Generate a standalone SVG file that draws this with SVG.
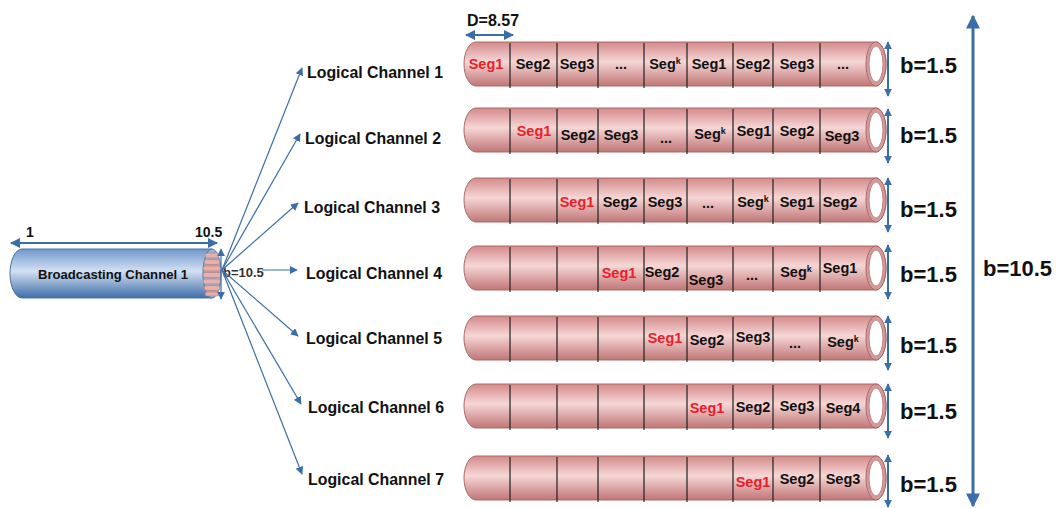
<svg xmlns="http://www.w3.org/2000/svg" width="1056" height="508" viewBox="0 0 1056 508">
<defs>
<linearGradient id="pink" x1="0" y1="0" x2="0" y2="1">
<stop offset="0" stop-color="#d48a8a"/>
<stop offset="0.45" stop-color="#f6d6d6"/>
<stop offset="1" stop-color="#c07676"/>
</linearGradient>
<linearGradient id="blue" x1="0" y1="0" x2="0" y2="1">
<stop offset="0" stop-color="#6f97cc"/>
<stop offset="0.45" stop-color="#d3e0f2"/>
<stop offset="1" stop-color="#3f6ea8"/>
</linearGradient>
<marker id="ah" viewBox="0 0 10 10" refX="9" refY="5" markerWidth="8" markerHeight="8" markerUnits="userSpaceOnUse" orient="auto-start-reverse">
<path d="M0,0 L10,5 L0,10 Z" fill="#3b6ea8"/>
</marker>
<marker id="ahs" viewBox="0 0 10 10" refX="9" refY="5" markerWidth="10" markerHeight="10" markerUnits="userSpaceOnUse" orient="auto-start-reverse">
<path d="M0,0 L10,5 L0,10 Z" fill="#3b6ea8"/>
</marker>
<marker id="ahb" viewBox="0 0 10 10" refX="9" refY="5" markerWidth="14" markerHeight="14" markerUnits="userSpaceOnUse" orient="auto-start-reverse">
<path d="M0,0 L10,5 L0,10 Z" fill="#3b6ea8"/>
</marker>
<g id="tube">
<path d="M476,-22 L876,-22 A10,22 0 0 1 876,22 L476,22 A12,22 0 0 1 476,-22 Z" fill="url(#pink)" stroke="#a86868" stroke-width="1"/>
<ellipse cx="876" cy="0" rx="10" ry="22" fill="#d69a9a" stroke="#a86868" stroke-width="1"/>
<ellipse cx="876" cy="0" rx="7" ry="18" fill="#ffffff" stroke="#b07070" stroke-width="0.8"/>
<path d="M510,-21 V24 M557,-21 V24 M598,-21 V24 M644,-21 V24 M687,-21 V24 M733,-21 V24 M773,-21 V24 M820,-21 V24" stroke="#222" stroke-width="1.2"/>
</g>
</defs>
<style>
.seg{font-family:"Liberation Sans",Arial,sans-serif;font-weight:bold;font-size:14.5px;fill:#111;text-anchor:middle}
.red{fill:#e8202a}
.lc{font-family:"Liberation Sans",Arial,sans-serif;font-weight:bold;font-size:17px;fill:#111}
.b15{font-family:"Liberation Sans",Arial,sans-serif;font-weight:bold;font-size:22px;fill:#111}
.lbl{font-family:"Liberation Sans",Arial,sans-serif;font-weight:bold;fill:#111}
.con{stroke:#3b6ea8;stroke-width:1.2;fill:none}
.dim{stroke:#3b6ea8;stroke-width:2;fill:none}
</style>

<g id="broadcast">
<path d="M22,249 L212,249 L212,298 L22,298 A12,24.5 0 0 1 22,249 Z" fill="url(#blue)" stroke="#4a74a8" stroke-width="1"/>
<ellipse cx="212" cy="273.5" rx="9" ry="24.5" fill="#9bb4d8" stroke="#4a74a8" stroke-width="1"/>
<g fill="#e8b0a8" stroke="#b07a78" stroke-width="0.6">
<rect x="205" y="253" width="14" height="5" rx="2.5"/>
<rect x="204" y="259.5" width="16" height="5" rx="2.5"/>
<rect x="203" y="266" width="18" height="5" rx="2.5"/>
<rect x="203" y="272.5" width="18" height="5" rx="2.5"/>
<rect x="203" y="279" width="18" height="5" rx="2.5"/>
<rect x="204" y="285.5" width="16" height="5" rx="2.5"/>
<rect x="205" y="292" width="14" height="4" rx="2"/>
</g>
<text class="lbl" x="38" y="279" font-size="13.5" textLength="150" lengthAdjust="spacingAndGlyphs">Broadcasting Channel 1</text>
<text class="lbl" x="26" y="237" font-size="14">1</text>
<text class="lbl" x="195" y="237" font-size="14">10.5</text>
<line class="dim" x1="11" y1="243" x2="217" y2="243" marker-start="url(#ahs)" marker-end="url(#ahs)"/>
<line class="con" x1="221" y1="249" x2="221" y2="299" marker-start="url(#ah)" marker-end="url(#ah)"/>
<text x="223" y="277" font-family="Liberation Sans,Arial,sans-serif" font-size="13" font-weight="bold" fill="#333">b=10.5</text>
</g>

<g id="connectors">
<line class="con" x1="222" y1="270" x2="302" y2="68" marker-end="url(#ah)"/>
<line class="con" x1="222" y1="270" x2="300" y2="134" marker-end="url(#ah)"/>
<line class="con" x1="222" y1="270" x2="298" y2="203" marker-end="url(#ah)"/>
<line class="con" x1="262" y1="270" x2="297" y2="270" marker-end="url(#ah)"/>
<line class="con" x1="222" y1="270" x2="298" y2="336" marker-end="url(#ah)"/>
<line class="con" x1="222" y1="270" x2="301" y2="404" marker-end="url(#ah)"/>
<line class="con" x1="222" y1="270" x2="302" y2="474" marker-end="url(#ah)"/>
</g>

<g id="labels">
<text class="lc" x="307" y="78" textLength="136" lengthAdjust="spacingAndGlyphs">Logical Channel 1</text>
<text class="lc" x="305" y="144" textLength="136" lengthAdjust="spacingAndGlyphs">Logical Channel 2</text>
<text class="lc" x="304" y="213" textLength="136" lengthAdjust="spacingAndGlyphs">Logical Channel 3</text>
<text class="lc" x="306" y="279" textLength="136" lengthAdjust="spacingAndGlyphs">Logical Channel 4</text>
<text class="lc" x="306" y="344" textLength="136" lengthAdjust="spacingAndGlyphs">Logical Channel 5</text>
<text class="lc" x="308" y="413" textLength="136" lengthAdjust="spacingAndGlyphs">Logical Channel 6</text>
<text class="lc" x="308" y="485" textLength="136" lengthAdjust="spacingAndGlyphs">Logical Channel 7</text>
</g>

<g id="dimD">
<text class="lbl" x="467" y="26" font-size="16">D=8.57</text>
<line class="dim" x1="466" y1="35" x2="513" y2="35" marker-start="url(#ahs)" marker-end="url(#ahs)"/>
</g>

<g id="row1">
<use href="#tube" y="64"/>
<text class="seg red" x="486" y="69">Seg1</text>
<text class="seg" x="533" y="69">Seg2</text>
<text class="seg" x="577" y="69">Seg3</text>
<text class="seg" x="621" y="69">...</text>
<text class="seg" x="665" y="69">Seg<tspan font-size="9" dy="-5">k</tspan></text>
<text class="seg" x="709" y="69">Seg1</text>
<text class="seg" x="753" y="69">Seg2</text>
<text class="seg" x="797" y="69">Seg3</text>
<text class="seg" x="843" y="69">...</text>
</g>
<g id="row2">
<use href="#tube" y="130"/>
<text class="seg red" x="534" y="136">Seg1</text>
<text class="seg" x="578" y="140">Seg2</text>
<text class="seg" x="621" y="140">Seg3</text>
<text class="seg" x="666" y="143">...</text>
<text class="seg" x="710" y="139">Seg<tspan font-size="9" dy="-5">k</tspan></text>
<text class="seg" x="754" y="136">Seg1</text>
<text class="seg" x="797" y="136">Seg2</text>
<text class="seg" x="842" y="141">Seg3</text>
</g>
<g id="row3">
<use href="#tube" y="200"/>
<text class="seg red" x="577" y="207">Seg1</text>
<text class="seg" x="620" y="207">Seg2</text>
<text class="seg" x="665" y="207">Seg3</text>
<text class="seg" x="708" y="208">...</text>
<text class="seg" x="753" y="207">Seg<tspan font-size="9" dy="-5">k</tspan></text>
<text class="seg" x="797" y="207">Seg1</text>
<text class="seg" x="840" y="207">Seg2</text>
</g>
<g id="row4">
<use href="#tube" y="268"/>
<text class="seg red" x="619" y="278">Seg1</text>
<text class="seg" x="662" y="277">Seg2</text>
<text class="seg" x="706" y="285">Seg3</text>
<text class="seg" x="752" y="280">...</text>
<text class="seg" x="796" y="277">Seg<tspan font-size="9" dy="-5">k</tspan></text>
<text class="seg" x="840" y="273">Seg1</text>
</g>
<g id="row5">
<use href="#tube" y="338"/>
<text class="seg red" x="665" y="343">Seg1</text>
<text class="seg" x="707" y="345">Seg2</text>
<text class="seg" x="753" y="342">Seg3</text>
<text class="seg" x="795" y="348">...</text>
<text class="seg" x="843" y="347">Seg<tspan font-size="9" dy="-5">k</tspan></text>
</g>
<g id="row6">
<use href="#tube" y="406"/>
<text class="seg red" x="707" y="413">Seg1</text>
<text class="seg" x="753" y="412">Seg2</text>
<text class="seg" x="797" y="411">Seg3</text>
<text class="seg" x="843" y="413">Seg4</text>
</g>
<g id="row7">
<use href="#tube" y="478"/>
<text class="seg red" x="753" y="487">Seg1</text>
<text class="seg" x="797" y="484">Seg2</text>
<text class="seg" x="843" y="484">Seg3</text>
</g>

<g id="bdims">
<line class="dim" x1="888" y1="42" x2="888" y2="96" marker-start="url(#ah)" marker-end="url(#ah)"/>
<line class="dim" x1="888" y1="109" x2="888" y2="163" marker-start="url(#ah)" marker-end="url(#ah)"/>
<line class="dim" x1="888" y1="178" x2="888" y2="232" marker-start="url(#ah)" marker-end="url(#ah)"/>
<line class="dim" x1="888" y1="245" x2="888" y2="299" marker-start="url(#ah)" marker-end="url(#ah)"/>
<line class="dim" x1="888" y1="316" x2="888" y2="370" marker-start="url(#ah)" marker-end="url(#ah)"/>
<line class="dim" x1="888" y1="384" x2="888" y2="438" marker-start="url(#ah)" marker-end="url(#ah)"/>
<line class="dim" x1="888" y1="455" x2="888" y2="507" marker-start="url(#ah)" marker-end="url(#ah)"/>
<text class="b15" x="900" y="73">b=1.5</text>
<text class="b15" x="900" y="143">b=1.5</text>
<text class="b15" x="900" y="217">b=1.5</text>
<text class="b15" x="900" y="282">b=1.5</text>
<text class="b15" x="900" y="353">b=1.5</text>
<text class="b15" x="900" y="419">b=1.5</text>
<text class="b15" x="900" y="492">b=1.5</text>
</g>

<g id="bigdim">
<line x1="973" y1="16" x2="973" y2="506" stroke="#3b6ea8" stroke-width="3" marker-start="url(#ahb)" marker-end="url(#ahb)"/>
<text class="b15" x="983" y="276">b=10.5</text>
</g>
</svg>
